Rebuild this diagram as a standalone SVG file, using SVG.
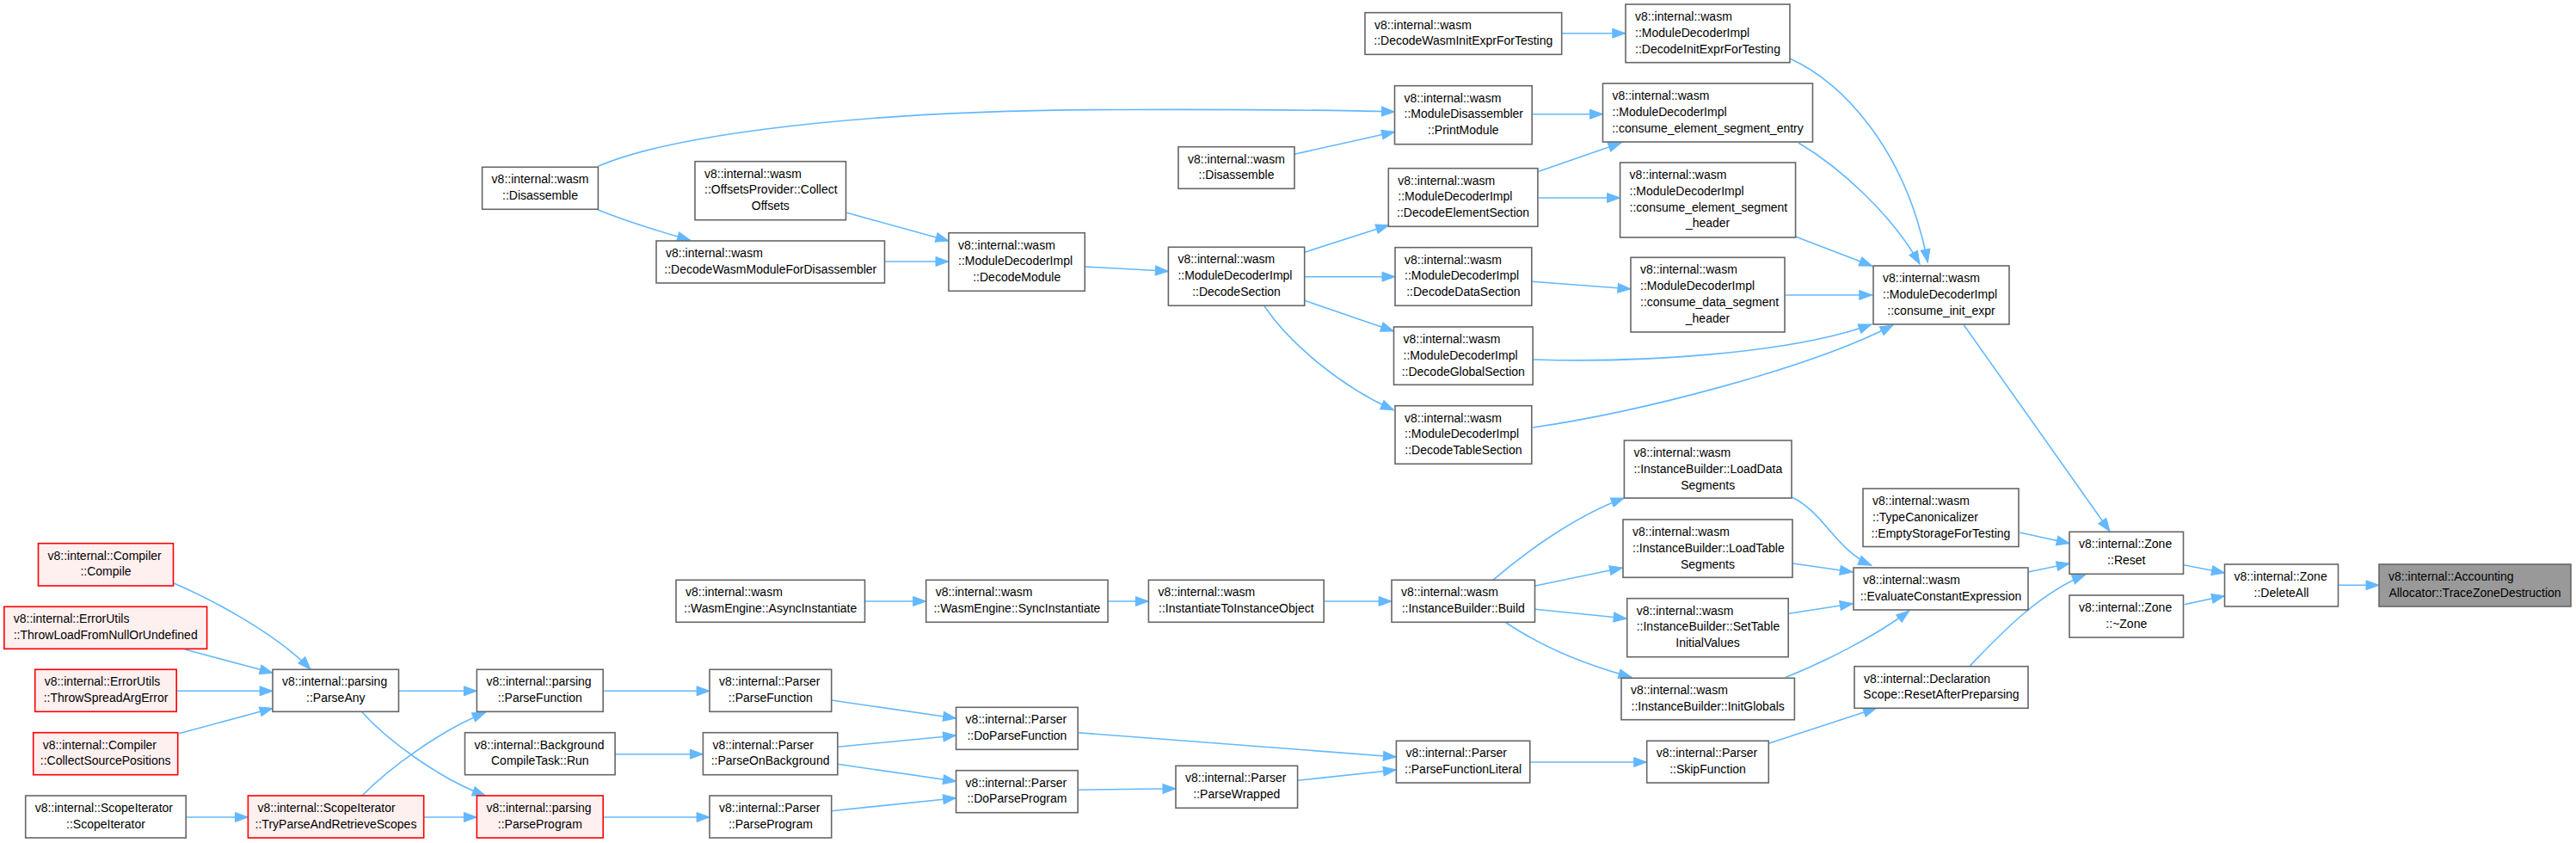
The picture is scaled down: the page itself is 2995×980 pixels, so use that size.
<svg xmlns="http://www.w3.org/2000/svg" width="2995" height="980" viewBox="0 0 2995 980">
<style>
rect{fill:#ffffff;stroke:#666666;stroke-width:1.6}
.r rect{fill:#fff0f0;stroke:#ff0000}
.g rect{fill:#999999;stroke:#666666}
text{font-family:"Liberation Sans",Arial,sans-serif;font-size:14px;fill:#000000}
.c{text-anchor:middle}
#edges path{fill:none;stroke:#63b8ff;stroke-width:1.6;marker-end:url(#ah)}
</style>
<defs>
<marker id="ah" markerUnits="userSpaceOnUse" markerWidth="16" markerHeight="12" refX="15" refY="5.5" orient="auto" overflow="visible">
<path d="M0,0 L15,5.5 L0,11 Z" fill="#63b8ff" stroke="#63b8ff" stroke-width="1"/>
</marker>
</defs>
<rect x="0" y="0" width="2995" height="980" style="fill:#ffffff;stroke:none"/>
<g id="edges">
<path d="M2718.5,680.3 L2766,680.3"/>
<path d="M2538.7,656.7 L2586.5,666"/>
<path d="M2539.7,702.7 L2586.5,692.7"/>
<path d="M2283.3,377.7 L2453,617.7"/>
<path d="M2348.3,619 L2406.2,631.7"/>
<path d="M2357.9,665 L2406.2,655"/>
<path d="M2290.4,774 C2325,738 2370,690 2424.4,668.3"/>
<path d="M2081,68 C2140,95 2215,170 2241.4,305"/>
<path d="M2091,166 C2140,195 2200,250 2232,307"/>
<path d="M2087.4,275 L2176.8,309.3"/>
<path d="M2075.9,343 L2176.8,343"/>
<path d="M1783,418 C1900,422 2080,412 2176,377"/>
<path d="M1782,497 C1900,480 2100,430 2201,378"/>
<path d="M1815.7,38.7 L1889.8,38.7"/>
<path d="M1782.2,132.7 L1863.5,132.7"/>
<path d="M1789,199.3 L1885,166"/>
<path d="M1789,230 L1883.6,230"/>
<path d="M1781.2,327.3 L1896,336"/>
<path d="M1516.7,293.3 L1614.8,261.7"/>
<path d="M1516.7,321.7 L1622,321.7"/>
<path d="M1516.7,349.3 L1620.5,385"/>
<path d="M1470,356 C1500,400 1560,450 1620.5,476.7"/>
<path d="M1504.8,179.3 L1621.5,153.3"/>
<path d="M695.4,193.3 C760,165 950,128 1300,127.5 C1450,127 1550,128 1621.5,130"/>
<path d="M695.4,244 C730,258 770,270 802.6,279.3"/>
<path d="M984.4,247.3 L1103,280"/>
<path d="M1028.4,304 L1103,304"/>
<path d="M1261.3,310 L1358.4,315.3"/>
<path d="M2083.5,578.3 C2120,595 2135,640 2175.8,657.3"/>
<path d="M2084.5,655 L2154.3,665"/>
<path d="M2079.7,713.3 L2154.3,701.7"/>
<path d="M2076.4,787.3 C2120,770 2180,740 2219.8,710"/>
<path d="M1735.8,674.3 C1770,645 1830,600 1888.4,579"/>
<path d="M1785,681 L1886.5,660"/>
<path d="M1785,708.3 L1891.2,719"/>
<path d="M1751.1,724 C1790,750 1840,772 1897,787.3"/>
<path d="M1539.2,699 L1618.1,699"/>
<path d="M1288.1,699 L1335.4,699"/>
<path d="M1005.4,699 L1076.7,699"/>
<path d="M2056.3,864.3 L2181.6,823.3"/>
<path d="M1778.8,886 L1914.7,886"/>
<path d="M1253.2,851.7 L1623.4,880"/>
<path d="M1508.6,907.3 L1623.4,895"/>
<path d="M1253.2,918.3 L1367,916.7"/>
<path d="M966.7,814 L1111.6,835"/>
<path d="M973.8,868.3 L1111.6,855"/>
<path d="M973.8,888.3 L1111.6,908.3"/>
<path d="M966.7,942.7 L1111.6,927.7"/>
<path d="M701.2,803.3 L825.1,803.3"/>
<path d="M715.1,876.7 L817.4,876.7"/>
<path d="M701.2,950 L825.1,950"/>
<path d="M463.5,803.3 L554.4,803.3"/>
<path d="M421,828 C450,860 510,905 564.4,925"/>
<path d="M421,925 C450,895 510,850 564.4,828.3"/>
<path d="M492.7,950 L554.4,950"/>
<path d="M216.2,950 L288.4,950"/>
<path d="M201.4,677.7 C240,694 320,735 361.1,778.3"/>
<path d="M215.2,755 L317.1,782.3"/>
<path d="M205.7,803.3 L317.1,803.3"/>
<path d="M208.1,852.7 L317.1,823.3"/>
</g>
<g id="n_trace" class="g"><rect x="2766" y="656" width="223" height="49"/><text x="2777" y="675">v8::internal::Accounting</text><text class="c" x="2877.5" y="693.7">Allocator::TraceZoneDestruction</text></g>
<g id="n_deleteall"><rect x="2586.5" y="656" width="132" height="49"/><text x="2597.5" y="675">v8::internal::Zone</text><text class="c" x="2652.5" y="693.7">::DeleteAll</text></g>
<g id="n_reset"><rect x="2406" y="618.3" width="132.5" height="49"/><text x="2417" y="637.3">v8::internal::Zone</text><text class="c" x="2472.3" y="656">::Reset</text></g>
<g id="n_dtor"><rect x="2406" y="692" width="132.5" height="49"/><text x="2417" y="711">v8::internal::Zone</text><text class="c" x="2472.3" y="729.7">::~Zone</text></g>
<g id="n_consume_init"><rect x="2178" y="309" width="158" height="68"/><text x="2189" y="328">v8::internal::wasm</text><text x="2189" y="346.7">::ModuleDecoderImpl</text><text class="c" x="2257" y="365.5">::consume_init_expr</text></g>
<g id="n_typecanon"><rect x="2166" y="568" width="181" height="67.5"/><text x="2177" y="587">v8::internal::wasm</text><text x="2177" y="605.7">::TypeCanonicalizer</text><text class="c" x="2256.5" y="624.5">::EmptyStorageForTesting</text></g>
<g id="n_evalconst"><rect x="2155" y="660" width="203" height="49"/><text x="2166" y="679">v8::internal::wasm</text><text class="c" x="2256.5" y="697.7">::EvaluateConstantExpression</text></g>
<g id="n_resetafter"><rect x="2156" y="774.7" width="202" height="48.6"/><text x="2167" y="793.7">v8::internal::Declaration</text><text class="c" x="2257" y="812.4">Scope::ResetAfterPreparsing</text></g>
<g id="n_initexpr_test"><rect x="1890" y="5" width="191" height="67.7"/><text x="1901" y="24">v8::internal::wasm</text><text x="1901" y="42.7">::ModuleDecoderImpl</text><text class="c" x="1985.5" y="61.5">::DecodeInitExprForTesting</text></g>
<g id="n_elem_entry"><rect x="1863.5" y="97" width="244" height="68"/><text x="1874.5" y="116">v8::internal::wasm</text><text x="1874.5" y="134.7">::ModuleDecoderImpl</text><text class="c" x="1985.5" y="153.5">::consume_element_segment_entry</text></g>
<g id="n_elem_header"><rect x="1883.6" y="189" width="204" height="87"/><text x="1894.6" y="208">v8::internal::wasm</text><text x="1894.6" y="226.7">::ModuleDecoderImpl</text><text x="1894.6" y="245.5">::consume_element_segment</text><text class="c" x="1985.6" y="264.3">_header</text></g>
<g id="n_data_header"><rect x="1896" y="299.3" width="179" height="86.7"/><text x="1907" y="318.3">v8::internal::wasm</text><text x="1907" y="337">::ModuleDecoderImpl</text><text x="1907" y="355.8">::consume_data_segment</text><text class="c" x="1985.5" y="374.6">_header</text></g>
<g id="n_loaddata"><rect x="1888.4" y="512" width="194.6" height="67"/><text x="1899.4" y="531">v8::internal::wasm</text><text x="1899.4" y="549.7">::InstanceBuilder::LoadData</text><text class="c" x="1985.7" y="568.5">Segments</text></g>
<g id="n_loadtable"><rect x="1887" y="604" width="197" height="67.3"/><text x="1898" y="623">v8::internal::wasm</text><text x="1898" y="641.7">::InstanceBuilder::LoadTable</text><text class="c" x="1985.5" y="660.5">Segments</text></g>
<g id="n_settable"><rect x="1891.7" y="695.7" width="187.5" height="68"/><text x="1902.7" y="714.7">v8::internal::wasm</text><text x="1902.7" y="733.4">::InstanceBuilder::SetTable</text><text class="c" x="1985.5" y="752.2">InitialValues</text></g>
<g id="n_initglobals"><rect x="1885" y="788.3" width="201.4" height="48.4"/><text x="1896" y="807.3">v8::internal::wasm</text><text class="c" x="1985.7" y="826">::InstanceBuilder::InitGlobals</text></g>
<g id="n_skipfn"><rect x="1914.7" y="861.3" width="141.6" height="48.7"/><text x="1925.7" y="880.3">v8::internal::Parser</text><text class="c" x="1985.5" y="899">::SkipFunction</text></g>
<g id="n_initexpr_wasm"><rect x="1587" y="14.7" width="228.7" height="48.6"/><text x="1598" y="33.7">v8::internal::wasm</text><text class="c" x="1701.3" y="52.4">::DecodeWasmInitExprForTesting</text></g>
<g id="n_printmodule"><rect x="1621.5" y="99.7" width="159.7" height="68"/><text x="1632.5" y="118.7">v8::internal::wasm</text><text x="1632.5" y="137.4">::ModuleDisassembler</text><text class="c" x="1701.3" y="156.2">::PrintModule</text></g>
<g id="n_decodeelem"><rect x="1614.3" y="195.7" width="173.6" height="67.6"/><text x="1625.3" y="214.7">v8::internal::wasm</text><text x="1625.3" y="233.4">::ModuleDecoderImpl</text><text class="c" x="1701.1" y="252.2">::DecodeElementSection</text></g>
<g id="n_decodedata"><rect x="1622" y="287.7" width="158.8" height="67.6"/><text x="1633" y="306.7">v8::internal::wasm</text><text x="1633" y="325.4">::ModuleDecoderImpl</text><text class="c" x="1701.4" y="344.2">::DecodeDataSection</text></g>
<g id="n_decodeglobal"><rect x="1620.5" y="380" width="161.7" height="67.3"/><text x="1631.5" y="399">v8::internal::wasm</text><text x="1631.5" y="417.7">::ModuleDecoderImpl</text><text class="c" x="1701.3" y="436.5">::DecodeGlobalSection</text></g>
<g id="n_decodetable"><rect x="1622" y="471.7" width="158.8" height="67.6"/><text x="1633" y="490.7">v8::internal::wasm</text><text x="1633" y="509.4">::ModuleDecoderImpl</text><text class="c" x="1701.4" y="528.2">::DecodeTableSection</text></g>
<g id="n_build"><rect x="1618" y="674.3" width="166.5" height="49"/><text x="1629" y="693.3">v8::internal::wasm</text><text class="c" x="1701.3" y="712">::InstanceBuilder::Build</text></g>
<g id="n_parsefnliteral"><rect x="1623.4" y="861.3" width="155.4" height="48.7"/><text x="1634.4" y="880.3">v8::internal::Parser</text><text class="c" x="1701.1" y="899">::ParseFunctionLiteral</text></g>
<g id="n_disasm2"><rect x="1370" y="170.7" width="135" height="48.6"/><text x="1381" y="189.7">v8::internal::wasm</text><text class="c" x="1437.5" y="208.4">::Disassemble</text></g>
<g id="n_decodesection"><rect x="1358.4" y="287.3" width="158.3" height="68"/><text x="1369.4" y="306.3">v8::internal::wasm</text><text x="1369.4" y="325">::ModuleDecoderImpl</text><text class="c" x="1437.5" y="343.8">::DecodeSection</text></g>
<g id="n_instantiate_obj"><rect x="1335.4" y="674.3" width="203.8" height="49"/><text x="1346.4" y="693.3">v8::internal::wasm</text><text class="c" x="1437.3" y="712">::InstantiateToInstanceObject</text></g>
<g id="n_parsewrapped"><rect x="1367" y="890.3" width="141.6" height="49"/><text x="1378" y="909.3">v8::internal::Parser</text><text class="c" x="1437.8" y="928">::ParseWrapped</text></g>
<g id="n_decodemodule"><rect x="1103" y="270.7" width="158.3" height="67.6"/><text x="1114" y="289.7">v8::internal::wasm</text><text x="1114" y="308.4">::ModuleDecoderImpl</text><text class="c" x="1182.2" y="327.2">::DecodeModule</text></g>
<g id="n_syncinst"><rect x="1076.7" y="674.3" width="211.4" height="49"/><text x="1087.7" y="693.3">v8::internal::wasm</text><text class="c" x="1182.4" y="712">::WasmEngine::SyncInstantiate</text></g>
<g id="n_doparsefn"><rect x="1111.6" y="822.3" width="141.6" height="49"/><text x="1122.6" y="841.3">v8::internal::Parser</text><text class="c" x="1182.4" y="860">::DoParseFunction</text></g>
<g id="n_doparseprog"><rect x="1111.6" y="895.7" width="141.6" height="49"/><text x="1122.6" y="914.7">v8::internal::Parser</text><text class="c" x="1182.4" y="933.4">::DoParseProgram</text></g>
<g id="n_offsets"><rect x="808" y="187.7" width="175.5" height="68"/><text x="819" y="206.7">v8::internal::wasm</text><text x="819" y="225.4">::OffsetsProvider::Collect</text><text class="c" x="895.8" y="244.2">Offsets</text></g>
<g id="n_decodewasmdisasm"><rect x="763" y="280" width="265.5" height="49"/><text x="774" y="299">v8::internal::wasm</text><text class="c" x="895.8" y="317.7">::DecodeWasmModuleForDisassembler</text></g>
<g id="n_asyncinst"><rect x="786" y="674.3" width="219.5" height="49"/><text x="797" y="693.3">v8::internal::wasm</text><text class="c" x="895.8" y="712">::WasmEngine::AsyncInstantiate</text></g>
<g id="n_parser_parsefn"><rect x="825" y="778.3" width="141.7" height="49"/><text x="836" y="797.3">v8::internal::Parser</text><text class="c" x="895.9" y="816">::ParseFunction</text></g>
<g id="n_parseonbg"><rect x="817.4" y="851.7" width="156.4" height="49"/><text x="828.4" y="870.7">v8::internal::Parser</text><text class="c" x="895.6" y="889.4">::ParseOnBackground</text></g>
<g id="n_parser_parseprog"><rect x="825" y="925" width="141.7" height="49"/><text x="836" y="944">v8::internal::Parser</text><text class="c" x="895.9" y="962.7">::ParseProgram</text></g>
<g id="n_disasm1"><rect x="560.6" y="194.3" width="134.8" height="49"/><text x="571.6" y="213.3">v8::internal::wasm</text><text class="c" x="628" y="232">::Disassemble</text></g>
<g id="n_parsing_parsefn"><rect x="554.4" y="778.3" width="146.8" height="49"/><text x="565.4" y="797.3">v8::internal::parsing</text><text class="c" x="627.8" y="816">::ParseFunction</text></g>
<g id="n_bgcompile"><rect x="540.5" y="851.7" width="174.6" height="49"/><text x="551.5" y="870.7">v8::internal::Background</text><text class="c" x="627.8" y="889.4">CompileTask::Run</text></g>
<g id="n_parsing_parseprog" class="r"><rect x="554.4" y="925" width="146.8" height="49"/><text x="565.4" y="944">v8::internal::parsing</text><text class="c" x="627.8" y="962.7">::ParseProgram</text></g>
<g id="n_parseany"><rect x="317" y="778.3" width="146.5" height="49"/><text x="328" y="797.3">v8::internal::parsing</text><text class="c" x="390.3" y="816">::ParseAny</text></g>
<g id="n_tryparse" class="r"><rect x="288.4" y="925" width="204.3" height="49"/><text x="299.4" y="944">v8::internal::ScopeIterator</text><text class="c" x="390.5" y="962.7">::TryParseAndRetrieveScopes</text></g>
<g id="n_compile" class="r"><rect x="44.5" y="631.7" width="157" height="49.3"/><text x="55.5" y="650.7">v8::internal::Compiler</text><text class="c" x="123" y="669.4">::Compile</text></g>
<g id="n_throwload" class="r"><rect x="4.8" y="705.3" width="235.8" height="49"/><text x="15.8" y="724.3">v8::internal::ErrorUtils</text><text class="c" x="122.7" y="743">::ThrowLoadFromNullOrUndefined</text></g>
<g id="n_throwspread" class="r"><rect x="40.7" y="778.3" width="164.5" height="49"/><text x="51.7" y="797.3">v8::internal::ErrorUtils</text><text class="c" x="123" y="816">::ThrowSpreadArgError</text></g>
<g id="n_collect" class="r"><rect x="38.7" y="851.7" width="168" height="49"/><text x="49.7" y="870.7">v8::internal::Compiler</text><text class="c" x="122.7" y="889.4">::CollectSourcePositions</text></g>
<g id="n_scopeiter"><rect x="29.7" y="925" width="186.5" height="49"/><text x="40.7" y="944">v8::internal::ScopeIterator</text><text class="c" x="123" y="962.7">::ScopeIterator</text></g>
</svg>
